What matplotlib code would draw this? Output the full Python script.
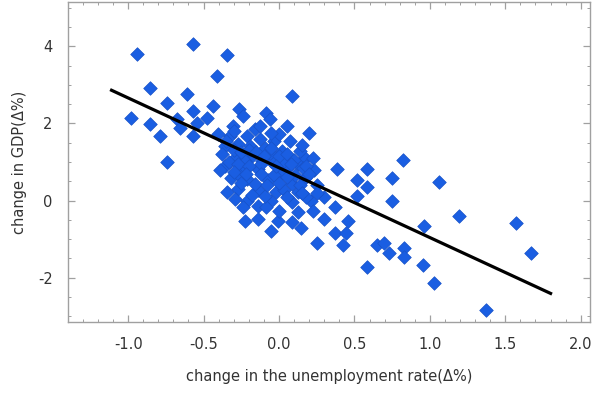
import matplotlib
matplotlib.use("Agg")
import matplotlib.pyplot as plt
from matplotlib.ticker import MultipleLocator

# quarterly changes
unemp_change = [
    -0.944, -0.573, -0.348, -0.414, -0.858, -0.613, -0.983, -0.858, -0.745, -0.791,
    -0.745, -0.679, -0.659, -0.573, -0.480, -0.440, -0.546, -0.573, -0.262, -0.242,
    -0.083, -0.063, 0.050, 0.202, 0.089, -0.308, -0.407, -0.162, -0.209, -0.030,
    -0.361, -0.275, -0.096, 0.017, 0.169, 0.222, 0.123, -0.381, -0.295, -0.182,
    -0.050, 0.056, 0.235, -0.361, -0.248, -0.142, 0.017, 0.169, -0.315, -0.209,
    -0.076, 0.083, 0.255, -0.275, -0.142, -0.017, 0.123, -0.348, -0.215, -0.050,
    0.083, 0.215, -0.242, -0.142, -0.228, -0.142, -0.010, -0.050, 0.083, 0.149,
    0.003, -0.083, 0.123, 0.255, 0.301, 0.368, 0.156, 0.182, 0.301, 0.222,
    0.454, 0.368, 0.447, 0.421, 0.650, 0.699, 0.387, 0.586, 0.520, 0.586,
    0.752, 0.520, 0.752, 0.825, 1.063, 1.195, 1.573, 1.672, 0.964, 0.732,
    0.831, 0.831, 0.957, 1.030, 1.374, 0.586,
    -0.328, -0.129, -0.195, -0.063, 0.036, -0.116, -0.262, -0.030, 0.103, -0.162,
    0.036, -0.096, -0.295, 0.136, -0.394, -0.228, 0.070, 0.136, -0.129, 0.003,
    -0.35, -0.30, -0.25, -0.20, -0.15, -0.10, -0.05, 0.00, 0.05, 0.10,
    -0.33, -0.27, -0.20, -0.12, -0.02, 0.08, 0.18, -0.30, -0.22, -0.12,
    0.05, 0.20, -0.25, -0.08, 0.00, 0.15, -0.18, 0.05, 0.25, -0.30,
    -0.05, 0.15,
]
gdp_change = [
    3.80, 4.06, 3.77, 3.23, 2.92, 2.76, 2.14, 1.99, 2.53, 1.68,
    1.01, 2.12, 1.89, 2.33, 2.14, 2.45, 2.02, 1.68, 2.38, 2.20,
    2.27, 2.12, 1.94, 1.76, 2.71, 1.94, 1.73, 1.86, 1.68, 1.55,
    1.42, 1.47, 1.37, 1.29, 1.09, 1.11, 0.96, 1.21, 1.11, 1.16,
    1.03, 0.85, 0.78, 0.90, 0.85, 0.83, 0.72, 0.59, 0.59, 0.57,
    0.52, 0.44, 0.39, 0.31, 0.26, 0.21, 0.21, 0.21, 0.00, 0.00,
    -0.05, 0.00, -0.18, -0.13, -0.52, -0.47, -0.52, -0.78, -0.57, -0.72,
    -0.26, -0.18, -0.31, -1.11, -0.47, -0.18, 0.85, 0.08, 0.08, -0.26,
    -0.52, -0.83, -0.85, -1.16, -1.16, -1.11, 0.83, 0.83, 0.52, 0.34,
    0.59, 0.13, 0.00, 1.06, 0.49, -0.39, -0.59, -1.37, -0.65, -1.37,
    -1.24, -1.47, -1.68, -2.14, -2.84, -1.73,
    1.68, 1.60, 1.42, 1.24, 1.03, 1.03, 0.65, 0.65, 0.65, 0.44,
    0.26, 0.13, 0.05, 0.39, 0.78, 1.03, 1.55, 1.29, 1.94, 1.73,
    1.55, 1.30, 1.25, 1.30, 1.25, 1.15, 1.35, 1.15, 1.20, 1.05,
    1.00, 0.95, 0.90, 0.95, 0.90, 0.95, 0.90, 0.75, 0.70, 0.70,
    0.60, 0.70, 0.45, 0.40, 0.45, 0.20, 0.15, 0.10, 0.20, 1.80,
    1.75, 1.45,
]

# fitted Okun line end points
fit_x = [-1.11, 1.80]
fit_y = [2.86, -2.41]

x_ticks = [-1.0, -0.5, 0.0, 0.5, 1.0, 1.5, 2.0]
y_ticks = [-2, 0, 2, 4]

plt.rcParams["axes.unicode_minus"] = False
fig = plt.figure(figsize=(6.0, 3.96), dpi=100)
ax = fig.add_axes([0.113, 0.187, 0.87, 0.808])

ax.scatter(unemp_change, gdp_change, marker="D", s=48, color="#1a5ee2",
           edgecolors="#1852c8", linewidths=0.5, zorder=2)
ax.plot(fit_x, fit_y, color="black", linewidth=2.3, zorder=3)

ax.set_xlim(-1.40, 2.06)
ax.set_ylim(-3.15, 5.15)
ax.set_xticks(x_ticks)
ax.set_xticklabels([f"{t:.1f}" for t in x_ticks])
ax.set_yticks(y_ticks)
ax.xaxis.set_minor_locator(MultipleLocator(0.1))
ax.yaxis.set_minor_locator(MultipleLocator(0.5))

frame = "#a0a0a0"
for s in ax.spines.values():
    s.set_color(frame)
    s.set_linewidth(1.0)
ax.tick_params(which="both", direction="in", top=True, right=True, color=frame)
ax.tick_params(which="major", length=5, width=0.9, pad=11, labelsize=10.5, labelcolor="#333333")
ax.tick_params(which="minor", length=2.5, width=0.7)

ax.set_xlabel("change in the unemployment rate(Δ%)", fontsize=10.5, color="#333333", labelpad=12)
ax.set_ylabel("change in GDP(Δ%)", fontsize=10.5, color="#333333", labelpad=8)

fig.savefig("out.png", dpi=100, facecolor="white")
